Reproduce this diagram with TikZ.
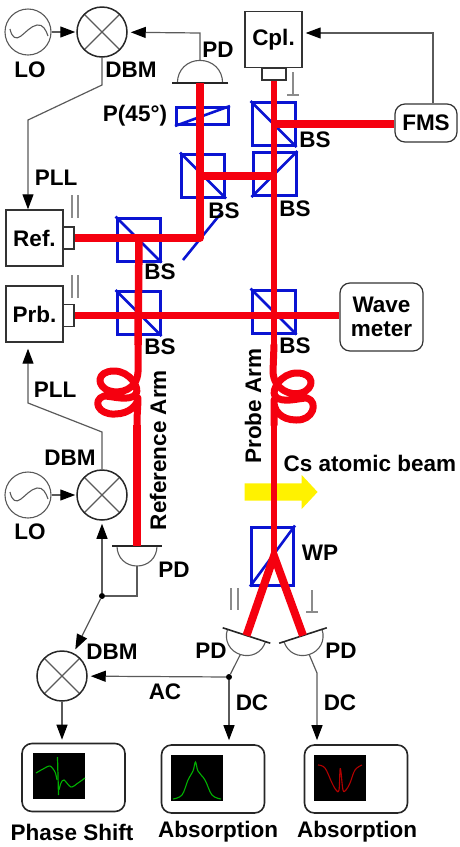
\documentclass[tikz,border=0pt]{standalone}
\usepackage{fontspec}
\setmainfont{Liberation Sans}
\usetikzlibrary{arrows.meta,shapes.arrows}

\definecolor{wiregray}{HTML}{5A5A5A}
\definecolor{cubeblue}{HTML}{0A14D2}
\definecolor{beamred}{HTML}{F5000F}

\tikzset{
    lbl/.style={font=\fontsize{22.5}{24}\selectfont\bfseries, inner sep=0},
    cube/.style={shape=rectangle, draw=cubeblue, line width=3, minimum size=43, inner sep=0},
    cubeline/.style={draw=cubeblue, line width=2.6},
    beam/.style={draw=beamred, line width=7.5, line join=round},
    fibre/.style={draw=beamred, line width=7, line join=round, line cap=round},
    wire/.style={draw=wiregray, line width=1.2},
    arrowwire/.style={wire, -{Triangle[black,length=15,width=11]}},
    polmark/.style={draw=wiregray!70, line width=1.1},
    laser/.style={lbl, shape=rectangle, draw=black!80, line width=1.4, minimum width=57, minimum height=56},
    port/.style={shape=rectangle, draw=black!80, line width=1.2, inner sep=0},
    instrument/.style={lbl, shape=rectangle, draw=black!80, line width=1.2, rounded corners=10},
    screen/.style={shape=rectangle, draw=black!85, line width=1.6, rounded corners=10, minimum width=103, minimum height=68, inner sep=0},
    scope face/.style={shape=rectangle, fill=black, minimum width=52, minimum height=46, inner sep=0},
    mixer/.style={shape=circle, draw=black!85, line width=1.5, minimum size=50, inner sep=0,
        path picture={\draw[wiregray, line width=1.2]
            (path picture bounding box.north west) -- (path picture bounding box.south east)
            (path picture bounding box.north east) -- (path picture bounding box.south west);}},
    oscillator/.style={shape=circle, draw=wiregray, line width=1.1, minimum size=46, inner sep=0,
        path picture={\draw[wiregray, line width=1.1, shift={(path picture bounding box.center)}]
            (-18,-3) .. controls (-16,6) and (-12,8) .. (-7,4)
            .. controls (-3,1) and (3,-6) .. (9,-7)
            .. controls (15,-8) and (18,-2) .. (20,4);}},
    detector/.pic={
        \draw[wiregray, line width=1.1] (-20,0) .. controls (-20,12) and (-11,20) .. (0,20)
            .. controls (11,20) and (20,12) .. (20,0);
        \draw[black!85, line width=1.6] (-25,0) -- (25,0);
        \coordinate (-beam) at (0,0);
        \coordinate (-dome) at (0,20);
    },
}

\begin{document}
\begin{tikzpicture}[x=1pt,y=-1pt]
    \useasboundingbox (0,0) rectangle (459,847);

    % optics
    \node[cube, minimum width=52, minimum height=17] (pol) at (202.5,116) {};
    \node[cube] (bsb) at (203,175.5) {};
    \node[cube] (bsa) at (138.5,239.5) {};
    \node[cube] (bsp) at (138.5,313) {};
    \node[cube] (bsc) at (273.5,124) {};
    \node[cube] (bsd) at (274.5,174) {};
    \node[cube] (bsq) at (273.5,311.5) {};
    \node[cube, minimum width=42, minimum height=58] (wp) at (272.5,556) {};

    \path[cubeline] (pol.south west) edge (pol.north east);
    \path[cubeline] (bsb.north west) edge (bsb.south east);
    \path[cubeline] (bsa.north west) edge (bsa.south east);
    \path[cubeline] (bsp.north west) edge (bsp.south east);
    \path[cubeline] (bsc.north west) edge (bsc.south east);
    \path[cubeline] (bsd.south west) edge (bsd.north east);
    \path[cubeline] (bsq.north west) edge (bsq.south east);
    \path[cubeline] (wp.south west) edge (wp.north east);

    \coordinate (mirrora) at (183,260);
    \coordinate (mirrorb) at (222,212);
    \path[cubeline] (mirrora) edge (mirrorb);

    \node[single arrow, fill=yellow, minimum height=73, inner xsep=0, inner ysep=8.5,
        single arrow head extend=8.5, single arrow tip angle=94] (atoms) at (277,492) {};

    % sources
    \node[laser] (ref) at (34.5,238) {Ref.};
    \node[laser] (prb) at (34.5,314) {Prb.};
    \node[laser] (cpl) at (273.5,39.5) {Cpl.};
    \node[port, minimum width=11, minimum height=22] (refport) at (68.5,238) {};
    \node[port, minimum width=11, minimum height=22] (prbport) at (68.5,315.5) {};
    \node[port, minimum width=24, minimum height=12] (cplport) at (274,74) {};

    \node[instrument, minimum width=62, minimum height=38] (fms) at (426,123) {FMS};
    \node[instrument, minimum width=83, minimum height=68, align=center] (wave) at (381.5,317) {Wave\\meter};

    % detectors
    \pic[rotate=180, scale=1.13] (pdt) at (200,83) {detector};
    \pic (pdm) at (137,546) {detector};
    \pic[rotate=-18] (pdl) at (246.5,635.5) {detector};
    \pic[rotate=18] (pdr) at (303,635.5) {detector};

    % beams
    \coordinate (mirror) at (200,238);
    \coordinate (refdown) at (139,238);
    \coordinate (refin) at (138,345);
    \coordinate (refout) at (137,425);
    \coordinate (linkb) at (200,176);
    \coordinate (linkd) at (274,176);
    \coordinate (cplin) at (274,345);
    \coordinate (cplout) at (274,425);
    \coordinate (split) at (274,556);
    \coordinate (fmsin) at (274,124);

    \draw[beam] (refport.east) -- (mirror) -- (pdt-beam);
    \draw[beam] (refdown) -- (refin);
    \draw[beam] (refout) -- (pdm-beam);
    \draw[beam] (prbport.east) -- (prbport.east -| wave.west);
    \draw[beam] (linkb) -- (linkd);
    \draw[beam] (fmsin) -- (fmsin -| fms.west);
    \draw[beam, line width=6.5] (cplport.south) -- (cplin);
    \draw[beam, line width=6.5] (cplout) -- (split);
    \draw[beam, line width=8, line join=miter] (pdl-beam) -- (split) -- (pdr-beam);

    % fibre loops
    \draw[fibre] (refin) -- (138,372) .. controls (137,390) and (120,394) .. (110,391)
        .. controls (96,387) and (96,371) .. (114,371)
        .. controls (130,371) and (140,388) .. (136,394)
        .. controls (130,402) and (112,396) .. (104,396)
        .. controls (92,400) and (98,415) .. (115,414)
        .. controls (130,414) and (138,404) .. (138,398) .. controls (138,406) and (137,412) .. (refout);
    \draw[fibre] (cplin) -- (273,372) .. controls (274,390) and (291,396) .. (301,393)
        .. controls (315,389) and (315,373) .. (297,373)
        .. controls (281,373) and (271,390) .. (275,396)
        .. controls (281,404) and (299,398) .. (307,398)
        .. controls (319,402) and (313,421) .. (296,420)
        .. controls (281,420) and (273,410) .. (274,400) .. controls (274,408) and (274,414) .. (cplout);

    % electronics
    \node[oscillator] (loa) at (28,32) {};
    \node[mixer] (dbma) at (102,32) {};
    \node[oscillator] (lob) at (28,495) {};
    \node[mixer] (dbmb) at (102,495) {};
    \node[mixer] (dbmc) at (62,676) {};

    \node[screen] (phase) at (73.5,777.5) {};
    \node[screen] (absa) at (213,779) {};
    \node[screen] (absb) at (356,779) {};
    \node[scope face] (facea) at (59,776) {};
    \node[scope face] (faceb) at (197,777.5) {};
    \node[scope face] (facec) at (339.5,777.5) {};

    \coordinate (pdtup) at (200,33);
    \coordinate (plla) at (102,85);
    \coordinate (pllb) at (28,120);
    \coordinate (pllc) at (102,432);
    \coordinate (plld) at (28,403);
    \coordinate (fmsup) at (433,33);
    \coordinate (pdmdown) at (137,596);
    \node[shape=circle, fill=black, minimum size=6, inner sep=0] (joina) at (102,596) {};
    \node[shape=circle, fill=black, minimum size=6, inner sep=0] (joinb) at (229,677) {};
    \coordinate (pdrbend) at (317,673);

    \path[arrowwire, shorten >=1] (loa) edge (dbma);
    \path[arrowwire, shorten >=1] (lob) edge (dbmb);
    \draw[arrowwire, shorten >=3] (pdt-dome) -- (pdtup) -- (dbma);
    \draw[arrowwire] (dbma) -- (plla) -- (pllb) -- (ref.north -| pllb);
    \draw[arrowwire, shorten >=6] (dbmb) -- (pllc) -- (plld) -- (prb.south -| plld);
    \draw[arrowwire, shorten >=3] (fms.north -| fmsup) -- (fmsup) -- (cpl.east |- fmsup);
    \draw[wire] (pdm-dome) -- (pdmdown) -- (joina);
    \draw[arrowwire, shorten >=3] (joina) -- (dbmb);
    \draw[arrowwire, shorten >=4] (joina) -- (dbmc);
    \draw[arrowwire, shorten >=3] (joinb) -- (dbmc);
    \draw[arrowwire, shorten >=3] (dbmc) -- (phase.north -| dbmc);
    \draw[wire] (pdl-dome) -- (joinb);
    \draw[arrowwire, shorten >=4] (joinb) -- (absa.north -| joinb);
    \draw[arrowwire, shorten >=4] (pdr-dome) -- (pdrbend) -- (absb.north -| pdrbend);

    % polarisation marks
    \draw[polmark] (72,195) -- (72,218) (78,195) -- (78,218);
    \draw[polmark] (72,275) -- (72,298) (78,275) -- (78,298);
    \draw[polmark] (231,588) -- (231,610) (238,588) -- (238,610);
    \draw[polmark] (293,72) -- (293,95) (287,95) -- (299,95);
    \draw[polmark] (312,590) -- (312,612) (306,612) -- (318,612);

    % traces
    \draw[green!70!black, line width=1.1] plot[smooth, tension=0.5] coordinates {(36,773) (43,769) (50,766) (55,772) (57,780)};
    \draw[green!70!black, line width=1.2] (57.5,757) -- (58.5,795);
    \draw[green!70!black, line width=1.1] plot[smooth, tension=0.5] coordinates {(59,790) (61,783) (64,780) (71,787) (78,783) (85,778)};
    \draw[green!70!black, line width=1.1] plot[smooth, tension=0.6] coordinates {(173,799) (182,795) (188,780) (193,771) (195.5,762) (198,771) (205,780) (212,795) (221,799)};
    \draw[red!70!black, line width=1.1] plot[smooth, tension=0.6] coordinates {(318,765) (325,768) (332,783) (336,790) (339,790) (340,770) (341,772) (343,790) (346,790) (350,783) (355,770) (362,765)};

    % labels
    \node[lbl] (loatext) at (30,70) {LO};
    \node[lbl] (dbmatext) at (131,70) {DBM};
    \node[lbl] (pdttext) at (218,50) {PD};
    \node[lbl] (poltext) at (135,116) {P(45°)};
    \node[lbl] (plltext) at (56,178) {PLL};
    \node[lbl] (bsatext) at (160,272) {BS};
    \node[lbl] (bsbtext) at (224,211) {BS};
    \node[lbl] (bsctext) at (315,140) {BS};
    \node[lbl] (bsdtext) at (295,209) {BS};
    \node[lbl] (bsptext) at (160,347) {BS};
    \node[lbl] (bsqtext) at (295,346) {BS};
    \node[lbl] (pllbtext) at (55,390) {PLL};
    \node[lbl] (dbmbtext) at (70,458) {DBM};
    \node[lbl] (lobtext) at (30,532) {LO};
    \node[lbl, rotate=90] (reftext) at (158,450) {Reference Arm};
    \node[lbl, rotate=90] (prbtext) at (253,406) {Probe Arm};
    \node[lbl] (cstext) at (370,463) {Cs atomic beam};
    \node[lbl] (wptext) at (320,553) {WP};
    \node[lbl] (pdmtext) at (174,570) {PD};
    \node[lbl] (dbmctext) at (112,652) {DBM};
    \node[lbl] (actext) at (165,692) {AC};
    \node[lbl] (pdltext) at (211,651) {PD};
    \node[lbl] (pdrtext) at (341,651) {PD};
    \node[lbl] (dcatext) at (252,703) {DC};
    \node[lbl] (dcbtext) at (340,703) {DC};
    \node[lbl] (phasetext) at (72,832) {Phase Shift};
    \node[lbl] (absatext) at (218,832) {Absorption};
    \node[lbl] (absbtext) at (357,832) {Absorption};
\end{tikzpicture}
\end{document}
